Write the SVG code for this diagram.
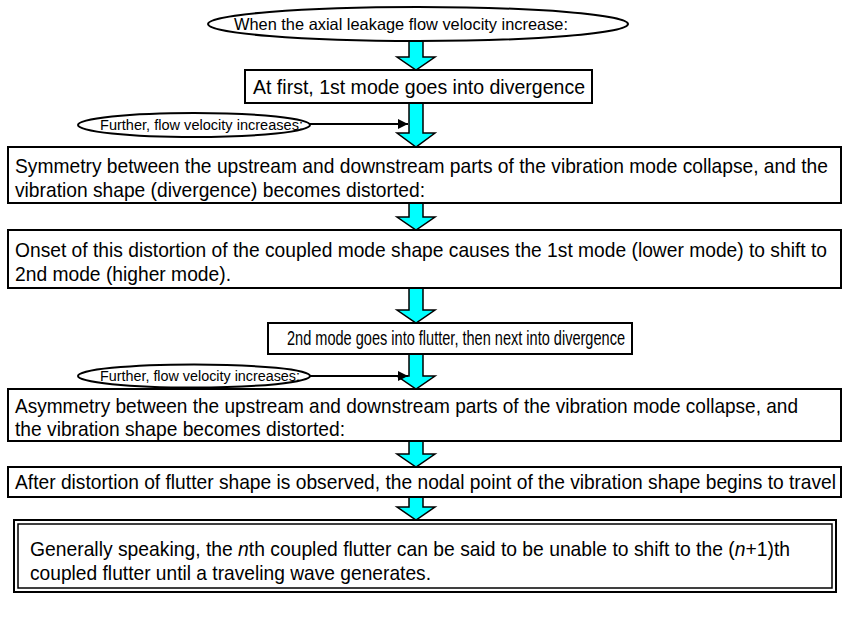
<svg xmlns="http://www.w3.org/2000/svg" width="843" height="617" viewBox="0 0 843 617">
<defs>
<style>
.box{fill:#fff;stroke:#000;stroke-width:2}
.ell{fill:#fff;stroke:#000;stroke-width:2}
.arr{fill:#00ffff;stroke:#000;stroke-width:1.5;stroke-linejoin:miter}
.t{font-family:"Liberation Sans",Arial,sans-serif;fill:#000}
.c{font-size:21px}
.conn{stroke:#000;stroke-width:2;fill:none}
</style>
<marker id="ah" viewBox="0 0 10 10" refX="10" refY="5" markerWidth="5" markerHeight="5" markerUnits="strokeWidth" orient="auto">
<path d="M0,0 L10,5 L0,10 z" fill="#000"/>
</marker>
</defs>
<rect width="843" height="617" fill="#fff"/>
<g id="connectors">
<polygon class="arr" points="409,41 423,41 423,57 435,57 416,70 397,57 409,57"/>
<polygon class="arr" points="409,103 423,103 423,133 435,133 416,147 397,133 409,133"/>
<polygon class="arr" points="409,203 423,203 423,217 435,217 416,230 397,217 409,217"/>
<polygon class="arr" points="409,288 423,288 423,310 435,310 416,323 397,310 409,310"/>
<polygon class="arr" points="409,354 423,354 423,376 435,376 416,389 397,376 409,376"/>
<polygon class="arr" points="409,441 423,441 423,454 435,454 416,467 397,454 409,454"/>
<polygon class="arr" points="409,497 423,497 423,507 435,507 416,520 397,507 409,507"/>
<line class="conn" x1="309" y1="124" x2="408" y2="124" marker-end="url(#ah)"/>
<line class="conn" x1="309" y1="376" x2="408" y2="376" marker-end="url(#ah)"/>
</g>
<g id="n0">
<ellipse class="ell" cx="418" cy="24" rx="210" ry="17"/>
<text class="t" x="234" y="30" font-size="16.5" textLength="334" lengthAdjust="spacingAndGlyphs">When the axial leakage flow velocity increase:</text>
</g>
<g id="n1">
<rect class="box" x="245" y="70" width="347" height="33"/>
<text class="t" x="253" y="94" font-size="19.5" textLength="332" lengthAdjust="spacingAndGlyphs">At first, 1st mode goes into divergence</text>
</g>
<g id="s1">
<ellipse class="ell" cx="194" cy="125" rx="116" ry="12"/>
<text class="t" x="100" y="130" font-size="14" textLength="203" lengthAdjust="spacingAndGlyphs">Further, flow velocity increases:</text>
</g>
<g id="n2">
<rect class="box" x="8" y="147" width="833" height="56"/>
<text class="t c" x="15" y="173" textLength="813" lengthAdjust="spacingAndGlyphs">Symmetry between the upstream and downstream parts of the vibration mode collapse, and the</text>
<text class="t c" x="15" y="197" textLength="410" lengthAdjust="spacingAndGlyphs">vibration shape (divergence) becomes distorted:</text>
</g>
<g id="n3">
<rect class="box" x="8" y="230" width="833" height="58"/>
<text class="t c" x="15" y="257" textLength="812" lengthAdjust="spacingAndGlyphs">Onset of this distortion of the coupled mode shape causes the 1st mode (lower mode) to shift to</text>
<text class="t c" x="15" y="281" textLength="216" lengthAdjust="spacingAndGlyphs">2nd mode (higher mode).</text>
</g>
<g id="n4">
<rect class="box" x="268" y="323" width="364" height="31"/>
<text class="t" x="287" y="345" font-size="20" textLength="338" lengthAdjust="spacingAndGlyphs">2nd mode goes into flutter, then next into divergence</text>
</g>
<g id="s2">
<ellipse class="ell" cx="194" cy="376" rx="116" ry="11.5"/>
<text class="t" x="100" y="381" font-size="14" textLength="200" lengthAdjust="spacingAndGlyphs">Further, flow velocity increases:</text>
</g>
<g id="n5">
<rect class="box" x="8" y="389" width="833" height="52"/>
<text class="t c" x="15" y="413" textLength="783" lengthAdjust="spacingAndGlyphs">Asymmetry between the upstream and downstream parts of the vibration mode collapse, and</text>
<text class="t c" x="15" y="436" textLength="330" lengthAdjust="spacingAndGlyphs">the vibration shape becomes distorted:</text>
</g>
<g id="n6">
<rect class="box" x="8" y="467" width="833" height="30"/>
<text class="t c" x="15" y="489" textLength="821" lengthAdjust="spacingAndGlyphs">After distortion of flutter shape is observed, the nodal point of the vibration shape begins to travel</text>
</g>
<g id="n7">
<rect class="box" x="14" y="520" width="822" height="72"/>
<rect x="18" y="524" width="814" height="64" fill="none" stroke="#000" stroke-width="1.5"/>
<text class="t c" x="30" y="556" textLength="760" lengthAdjust="spacingAndGlyphs">Generally speaking, the <tspan font-style="italic">n</tspan>th coupled flutter can be said to be unable to shift to the (<tspan font-style="italic">n</tspan>+1)th</text>
<text class="t c" x="30" y="580" textLength="401" lengthAdjust="spacingAndGlyphs">coupled flutter until a traveling wave generates.</text>
</g>
</svg>
